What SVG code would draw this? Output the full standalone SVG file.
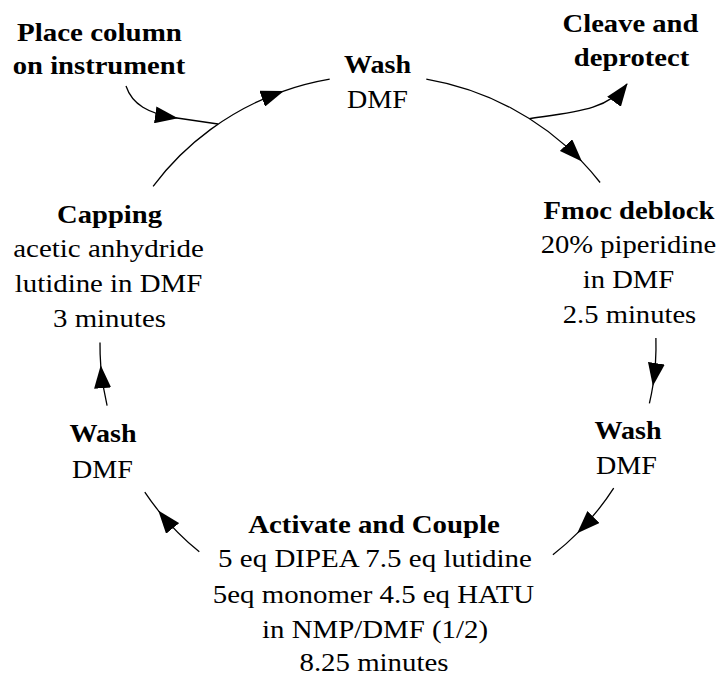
<svg xmlns="http://www.w3.org/2000/svg" width="722" height="676" viewBox="0 0 722 676">
  <defs>
    <marker id="arrow" markerUnits="userSpaceOnUse" markerWidth="23" markerHeight="17" viewBox="0 0 23 17" refX="22" refY="8.5" orient="auto">
      <path d="M0,0 L23,8.5 L0,17 Z" fill="#000"/>
    </marker>
  </defs>

  <rect width="722" height="676" fill="#fff"/>

  <!-- connectors: synthesis cycle drawn clockwise on an ellipse, centre (378,345), rx 278, ry 270 -->
  <g id="connectors" fill="none" stroke="#000" stroke-width="1.3">
    <!-- capping -> top wash -->
    <path marker-mid="url(#arrow)" d="M153.1,186.3 A278 270 0 0 1 282.9,91.3 A278 270 0 0 1 329.7,79.1"/>
    <!-- top wash -> Fmoc deblock -->
    <path marker-mid="url(#arrow)" d="M426.3,79.1 A278 270 0 0 1 581.3,160.9 A278 270 0 0 1 600.1,182.5"/>
    <!-- Fmoc deblock -> right wash -->
    <path marker-mid="url(#arrow)" d="M655.9,337.9 A278 270 0 0 1 653,385 A278 270 0 0 1 649.4,403.4"/>
    <!-- right wash -> activate and couple -->
    <path marker-mid="url(#arrow)" d="M613.7,488.1 A278 270 0 0 1 577.9,532.6 A278 270 0 0 1 552.9,554.8"/>
    <!-- activate and couple -> left wash -->
    <path marker-mid="url(#arrow)" d="M199.3,551.8 A278 270 0 0 1 158.9,511.3 A278 270 0 0 1 144.8,492.1"/>
    <!-- left wash -> capping -->
    <path marker-mid="url(#arrow)" d="M107.1,405.7 A278 270 0 0 1 100.8,366.2 A278 270 0 0 1 100,342.6"/>
    <!-- entry: place column on instrument -->
    <path marker-mid="url(#arrow)" d="M126,86 C132,104 148,114 177,118 L218,124"/>
    <!-- exit: cleave and deprotect -->
    <path marker-end="url(#arrow)" d="M529.4,118.6 C575,112 608,110 627,84"/>
  </g>

  <!-- labels: Times-metric serif, widened slightly on x -->
  <g id="place-column">
    <text font-family="Liberation Serif, serif" font-size="26" font-weight="bold" text-anchor="middle" transform="translate(99.5,41) scale(1.115,1)">Place column</text>
    <text font-family="Liberation Serif, serif" font-size="26" font-weight="bold" text-anchor="middle" transform="translate(99,74) scale(1.1,1)">on instrument</text>
  </g>

  <g id="wash-top">
    <text font-family="Liberation Serif, serif" font-size="26" font-weight="bold" text-anchor="middle" transform="translate(377.5,73) scale(1.08,1)">Wash</text>
    <text font-family="Liberation Serif, serif" font-size="26" text-anchor="middle" transform="translate(377.5,108) scale(1.08,1)">DMF</text>
  </g>

  <g id="cleave">
    <text font-family="Liberation Serif, serif" font-size="26" font-weight="bold" text-anchor="middle" transform="translate(630.5,32) scale(1.1,1)">Cleave and</text>
    <text font-family="Liberation Serif, serif" font-size="26" font-weight="bold" text-anchor="middle" transform="translate(631.5,66) scale(1.1,1)">deprotect</text>
  </g>

  <g id="fmoc-deblock">
    <text font-family="Liberation Serif, serif" font-size="26" font-weight="bold" text-anchor="middle" transform="translate(629,219) scale(1.1,1)">Fmoc deblock</text>
    <text font-family="Liberation Serif, serif" font-size="26" text-anchor="middle" transform="translate(628.5,253) scale(1.1,1)">20% piperidine</text>
    <text font-family="Liberation Serif, serif" font-size="26" text-anchor="middle" transform="translate(628.5,288) scale(1.1,1)">in DMF</text>
    <text font-family="Liberation Serif, serif" font-size="26" text-anchor="middle" transform="translate(629.5,323) scale(1.1,1)">2.5 minutes</text>
  </g>

  <g id="wash-right">
    <text font-family="Liberation Serif, serif" font-size="26" font-weight="bold" text-anchor="middle" transform="translate(628,438.5) scale(1.08,1)">Wash</text>
    <text font-family="Liberation Serif, serif" font-size="26" text-anchor="middle" transform="translate(626.5,473.5) scale(1.08,1)">DMF</text>
  </g>

  <g id="activate-couple">
    <text font-family="Liberation Serif, serif" font-size="26" font-weight="bold" text-anchor="middle" transform="translate(374,533) scale(1.11,1)">Activate and Couple</text>
    <text font-family="Liberation Serif, serif" font-size="26" text-anchor="middle" transform="translate(375,567) scale(1.115,1)">5 eq DIPEA 7.5 eq lutidine</text>
    <text font-family="Liberation Serif, serif" font-size="26" text-anchor="middle" transform="translate(373.5,603) scale(1.11,1)">5eq monomer 4.5 eq HATU</text>
    <text font-family="Liberation Serif, serif" font-size="26" text-anchor="middle" transform="translate(375,638) scale(1.11,1)">in NMP/DMF (1/2)</text>
    <text font-family="Liberation Serif, serif" font-size="26" text-anchor="middle" transform="translate(374,671) scale(1.11,1)">8.25 minutes</text>
  </g>

  <g id="wash-left">
    <text font-family="Liberation Serif, serif" font-size="26" font-weight="bold" text-anchor="middle" transform="translate(103,442) scale(1.08,1)">Wash</text>
    <text font-family="Liberation Serif, serif" font-size="26" text-anchor="middle" transform="translate(102.5,478) scale(1.08,1)">DMF</text>
  </g>

  <g id="capping">
    <text font-family="Liberation Serif, serif" font-size="26" font-weight="bold" text-anchor="middle" transform="translate(109.5,223) scale(1.1,1)">Capping</text>
    <text font-family="Liberation Serif, serif" font-size="26" text-anchor="middle" transform="translate(108.5,257) scale(1.115,1)">acetic anhydride</text>
    <text font-family="Liberation Serif, serif" font-size="26" text-anchor="middle" transform="translate(108.5,292) scale(1.11,1)">lutidine in DMF</text>
    <text font-family="Liberation Serif, serif" font-size="26" text-anchor="middle" transform="translate(109.5,327) scale(1.11,1)">3 minutes</text>
  </g>
</svg>
